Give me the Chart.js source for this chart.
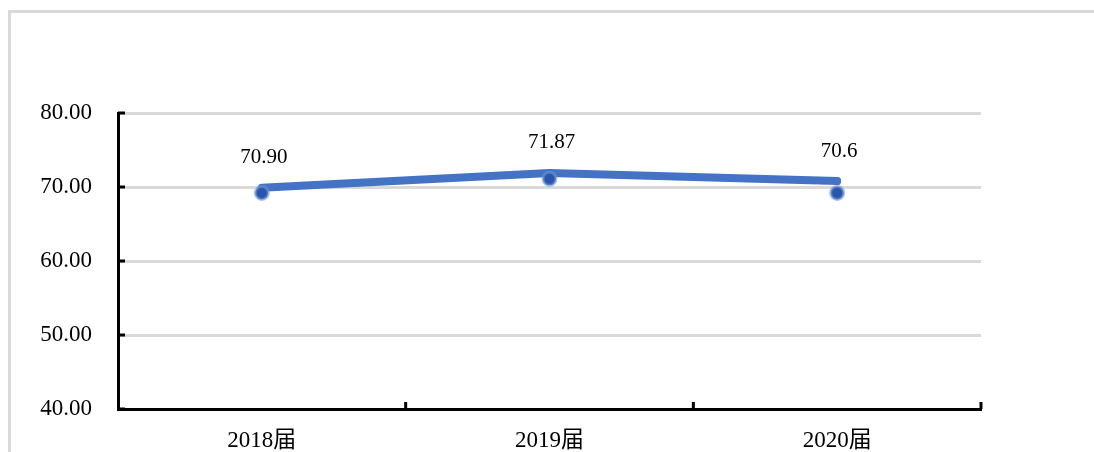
<!DOCTYPE html>
<html>
<head>
<meta charset="utf-8">
<script src="https://cdn.jsdelivr.net/npm/chart.js@4"></script>
<style>
  html, body { margin: 0; padding: 0; background: #fff; overflow: hidden; }
  #wrap { position: relative; width: 1094px; height: 452px; overflow: hidden; }
  #frame { position: absolute; left: 8px; top: 10px; width: 1200px; height: 500px;
           border-left: 3px solid #d9d9d9; border-top: 3px solid #d9d9d9; }
  canvas { position: absolute; left: 0; top: 0; }
</style>
</head>
<body>
<div id="wrap">
  <div id="frame"></div>
  <canvas id="chart" width="1094" height="452"></canvas>
</div>
<script>
const categories = ['2018届', '2019届', '2020届'];
const lineValues = [69.9, 71.9, 70.8];
const markerValues = [69.2, 71.1, 69.2];
const valueLabels = ['70.90', '71.87', '70.6'];
const yTicks = [40, 50, 60, 70, 80];

const FONT = "'Liberation Serif', 'Noto Sans CJK SC', serif";

// short black ticks drawn inward, plus value labels
const extras = {
  id: 'extras',
  afterDatasetsDraw(chart) {
    const ctx = chart.ctx;
    const y = chart.scales.y;
    const area = chart.chartArea;
    ctx.save();
    ctx.strokeStyle = '#000';
    ctx.lineWidth = 3;
    yTicks.forEach(t => {
      const py = y.getPixelForValue(t);
      ctx.beginPath();
      ctx.moveTo(area.left, py);
      ctx.lineTo(area.left + 7, py);
      ctx.stroke();
    });
    const step = (area.right - area.left) / categories.length;
    for (let i = 1; i <= categories.length; i++) {
      const px = area.left + step * i;
      ctx.beginPath();
      ctx.moveTo(px, area.bottom);
      ctx.lineTo(px, area.bottom - 7);
      ctx.stroke();
    }
    ctx.fillStyle = '#000';
    ctx.font = '21px ' + FONT;
    ctx.textAlign = 'center';
    ctx.textBaseline = 'middle';
    const meta = chart.getDatasetMeta(0);
    meta.data.forEach((pt, i) => {
      ctx.fillText(valueLabels[i], pt.x + 2, pt.y - 30);
    });
    ctx.restore();
  }
};

new Chart(document.getElementById('chart'), {
  type: 'line',
  data: {
    labels: categories,
    datasets: [
      {
        data: lineValues,
        borderColor: '#4472C4',
        borderWidth: 8,
        borderCapStyle: 'round',
        borderJoinStyle: 'round',
        pointRadius: 0,
        tension: 0,
        order: 1,
      },
      {
        data: markerValues,
        showLine: false,
        pointStyle: 'circle',
        pointRadius: 6.5,
        pointBackgroundColor: '#2A55AA',
        pointBorderColor: 'rgba(110,150,215,0.6)',
        pointBorderWidth: 3,
        order: 0,
      }
    ]
  },
  options: {
    responsive: false,
    animation: false,
    layout: { padding: { left: 0, right: 113, top: 113, bottom: 0 } },
    plugins: { legend: { display: false }, tooltip: { enabled: false } },
    scales: {
      x: {
        offset: true,
        grid: { display: false, drawTicks: false },
        border: { color: '#000', width: 3 },
        ticks: { color: '#000', font: { size: 23, family: FONT }, padding: 18 },
        afterFit(s) { s.height = 43; }
      },
      y: {
        min: 40, max: 80,
        grid: { color: '#d9d9d9', lineWidth: 3, drawTicks: false },
        border: { color: '#000', width: 3 },
        ticks: {
          stepSize: 10, color: '#000', padding: 26,
          font: { size: 23, family: FONT },
          callback: v => v.toFixed(2)
        },
        afterFit(s) { s.width = 118; }
      }
    }
  },
  plugins: [extras]
});
</script>
</body>
</html>
